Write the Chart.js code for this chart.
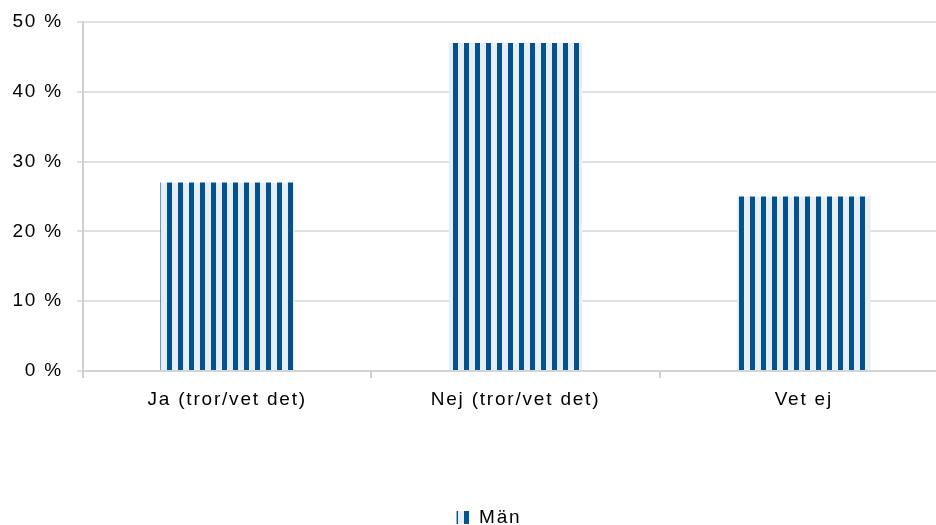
<!DOCTYPE html>
<html>
<head>
<meta charset="utf-8">
<script src="https://cdn.jsdelivr.net/npm/chart.js@4"></script>
<style>
  html, body { margin: 0; padding: 0; background: #fff; overflow: hidden; }
  #wrap { width: 936px; height: 525px; overflow: hidden; }
  #box { width: 948px; height: 525px; }
</style>
</head>
<body>
<div id="wrap"><div id="box"><canvas id="chart"></canvas></div></div>
<script>
// Data
const categories = ["Ja (tror/vet det)", "Nej (tror/vet det)", "Vet ej"];
const manValues = [27, 47, 25];
const seriesName = "Män";
const yMin = 0;
const yMax = 50;
const yStep = 10;

// Striped fill like the original
function stripes() {
  const c = document.createElement("canvas");
  c.width = 11;
  c.height = 4;
  const g = c.getContext("2d");
  g.fillStyle = "#e8eef6";
  g.fillRect(0, 0, 11, 4);
  g.fillStyle = "#02528f";
  g.fillRect(2, 0, 5, 4);
  return g.createPattern(c, "repeat");
}

// canvas text spacing (state is reset on resize, so set it again)
const spacing = {
  id: "spacing",
  beforeLayout(chart) { chart.ctx.letterSpacing = "1.8px"; },
  beforeDraw(chart) { chart.ctx.letterSpacing = "1.8px"; },
};

// legend sits a bit right of the canvas centre
const shiftLegend = {
  id: "shiftLegend",
  afterLayout(chart) {
    chart.legend.left += 15;
    chart.legend.right += 15;
  },
};

Chart.defaults.font.family = "'Liberation Sans', Arial, sans-serif";
Chart.defaults.font.size = 19;
Chart.defaults.color = "#000";

const ctx = document.getElementById("chart").getContext("2d");
const chart = new Chart(ctx, {
  type: "bar",
  data: {
    labels: categories,
    datasets: [
      {
        label: seriesName,
        data: manValues,
        backgroundColor: stripes(),
        borderWidth: 0,
        categoryPercentage: 1,
        barPercentage: 0.463,
      },
    ],
  },
  options: {
    responsive: true,
    maintainAspectRatio: false,
    animation: false,
    layout: { padding: { top: 0, left: 0, right: 0, bottom: -12 } },
    plugins: {
      legend: {
        position: "bottom",
        labels: { boxWidth: 13, boxHeight: 13, padding: 0 },
      },
      tooltip: { enabled: false },
    },
    scales: {
      x: {
        offset: true,
        grid: {
          offset: true,
          drawOnChartArea: false,
          tickLength: 7,
          color: "#cfcfcf",
          lineWidth: 2,
        },
        border: { color: "#d4d4d4", width: 2 },
        ticks: { padding: 10 },
        afterFit(scale) { scale.height = 137; },
      },
      y: {
        min: yMin,
        max: yMax,
        ticks: {
          stepSize: yStep,
          padding: 14,
          callback: (v) => v + " %",
        },
        grid: { color: "#e0e0e0", lineWidth: 2, tickLength: 6 },
        border: { color: "#cfcfcf", width: 2 },
        afterFit(scale) {
          scale.width = 83;
          scale.paddingTop = 22;
        },
      },
    },
  },
  plugins: [spacing, shiftLegend],
});
</script>
</body>
</html>
